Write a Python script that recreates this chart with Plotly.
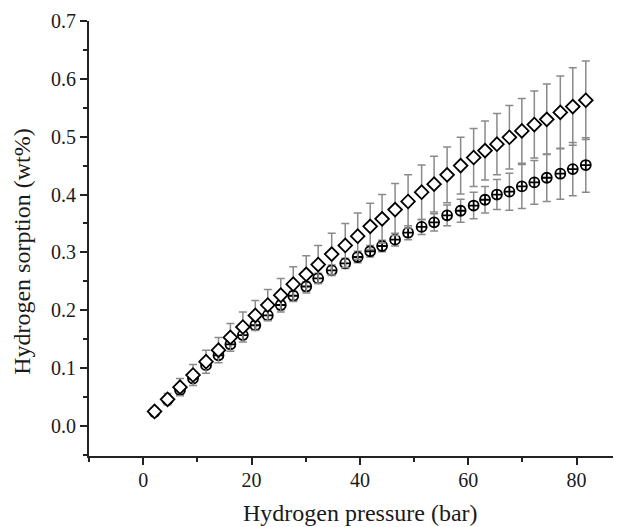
import plotly.graph_objects as go

# hydrogen pressure (bar)
pressure = [2.1, 4.5, 6.8, 9.2, 11.6, 13.9, 16.1, 18.4, 20.7, 23.0, 25.4, 27.7,
            30.1, 32.3, 34.8, 37.3, 39.6, 41.9, 44.1, 46.5, 48.9, 51.4, 53.7,
            56.1, 58.6, 61.0, 63.1, 65.3, 67.6, 69.9, 72.2, 74.5, 77.0, 79.3, 81.7]

# sorption (wt%) - open diamonds
diamond = [0.025, 0.046, 0.067, 0.088, 0.111, 0.131, 0.153, 0.171, 0.191, 0.209,
           0.226, 0.245, 0.262, 0.279, 0.297, 0.312, 0.328, 0.345, 0.358, 0.374,
           0.388, 0.404, 0.418, 0.434, 0.450, 0.464, 0.476, 0.487, 0.499, 0.510,
           0.521, 0.530, 0.542, 0.552, 0.563]
diamond_err = [0.005, 0.010, 0.015, 0.018, 0.020, 0.022, 0.024, 0.026, 0.026, 0.027,
               0.029, 0.030, 0.032, 0.033, 0.036, 0.038, 0.040, 0.040, 0.042, 0.045,
               0.046, 0.047, 0.048, 0.048, 0.049, 0.050, 0.051, 0.053, 0.055, 0.056,
               0.058, 0.061, 0.063, 0.067, 0.068]

# sorption (wt%) - crossed circles
circle = [0.024, 0.045, 0.062, 0.082, 0.105, 0.122, 0.141, 0.157, 0.174, 0.191,
          0.209, 0.225, 0.241, 0.255, 0.269, 0.281, 0.292, 0.302, 0.311, 0.322,
          0.334, 0.344, 0.352, 0.364, 0.372, 0.381, 0.391, 0.400, 0.405, 0.414,
          0.421, 0.429, 0.436, 0.444, 0.451]
circle_err = [0.003, 0.004, 0.005, 0.005, 0.006, 0.006, 0.007, 0.007, 0.007, 0.008,
              0.008, 0.008, 0.008, 0.009, 0.009, 0.009, 0.010, 0.010, 0.010, 0.011,
              0.012, 0.013, 0.015, 0.018, 0.020, 0.023, 0.023, 0.026, 0.032, 0.038,
              0.038, 0.041, 0.044, 0.046, 0.047]

x_ticks = [0, 20, 40, 60, 80]
y_ticks = [0.0, 0.1, 0.2, 0.3, 0.4, 0.5, 0.6, 0.7]

FONT = "Liberation Serif, Times New Roman, serif"
TXT = "#1a1a1a"
ERR = "#8a8a8a"

fig = go.Figure()

fig.add_trace(go.Scatter(
    x=pressure, y=circle, mode="markers",
    marker=dict(symbol="circle-cross", size=10, color="white",
                line=dict(color="black", width=1.8)),
    error_y=dict(type="data", array=circle_err, color=ERR, thickness=1.5, width=4),
    showlegend=False,
))

fig.add_trace(go.Scatter(
    x=pressure, y=diamond, mode="markers",
    marker=dict(symbol="diamond", size=10.5, color="white",
                line=dict(color="black", width=1.8)),
    error_y=dict(type="data", array=diamond_err, color=ERR, thickness=1.5, width=4),
    showlegend=False,
))

axis_common = dict(
    showgrid=False, zeroline=False, showline=True, linecolor="#222", linewidth=2,
    ticks="outside", ticklen=7, tickwidth=1.5, tickcolor="#222",
    tickfont=dict(family=FONT, size=20, color=TXT),
    minor=dict(ticks="outside", ticklen=4, tickwidth=1.5, tickcolor="#222"),
)

fig.update_xaxes(
    range=[-10, 88.2], tickvals=x_ticks, ticktext=[str(v) for v in x_ticks],
    minor_dtick=10, minor_tick0=0, ticklabelstandoff=-2,
    **axis_common,
)
fig.update_yaxes(
    range=[-0.052, 0.7], tickvals=y_ticks, ticktext=[f"{v:.1f}" for v in y_ticks],
    minor_dtick=0.05, minor_tick0=0,
    **axis_common,
)

# axis titles placed as annotations (the y title sits a bit below centre)
fig.add_annotation(text="Hydrogen pressure (bar)", xref="paper", yref="paper",
                   x=0.51, y=-0.131, xanchor="center", yanchor="middle",
                   showarrow=False, font=dict(family=FONT, size=24, color=TXT))
fig.add_annotation(text="Hydrogen sorption (wt%)", xref="paper", yref="paper",
                   x=-0.126, y=0.4715, xanchor="center", yanchor="middle", textangle=-90,
                   showarrow=False, font=dict(family=FONT, size=24, color=TXT))

# page body has an 8px margin, so the figure is shifted by 8px
fig.update_layout(
    width=613, height=519,
    margin=dict(l=81, r=0, t=13, b=71, autoexpand=False),
    plot_bgcolor="white", paper_bgcolor="white",
)

fig.write_html("out.html")
